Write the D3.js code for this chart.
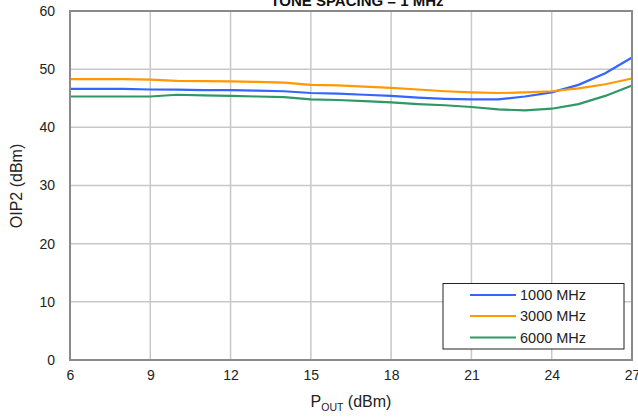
<!DOCTYPE html>
<html><head><meta charset="utf-8">
<script src="https://cdn.jsdelivr.net/npm/d3@7"></script>
<style>body{margin:0;background:#fff}svg{display:block;font-family:"Liberation Sans",Arial,sans-serif}</style>
</head><body><svg id="c" width="638" height="417"></svg>
<script>
const pout = [6,7,8,9,10,11,12,13,14,15,16,17,18,19,20,21,22,23,24,25,26,27];
const s1000 = [46.6,46.6,46.6,46.5,46.5,46.4,46.4,46.3,46.2,45.9,45.8,45.6,45.4,45.1,44.9,44.8,44.8,45.3,46.0,47.3,49.3,52.0];
const s3000 = [48.3,48.3,48.3,48.2,48.0,47.95,47.9,47.8,47.7,47.3,47.2,47.0,46.8,46.5,46.2,46.0,45.9,46.0,46.2,46.7,47.4,48.4];
const s6000 = [45.3,45.3,45.3,45.3,45.6,45.5,45.4,45.3,45.2,44.8,44.7,44.5,44.3,44.0,43.8,43.5,43.1,42.9,43.2,44.0,45.4,47.2];
const seriesNames = ["1000 MHz","3000 MHz","6000 MHz"];
const seriesColors = ["#3366ff","#ff9900","#2e9966"];
const xTicks = [6,9,12,15,18,21,24,27];
const yTicks = [0,10,20,30,40,50,60];

const svg = d3.select("#c");
const L=70,R=632,T=11,B=360;
const x = d3.scaleLinear().domain([6,27]).range([L,R]);
const y = d3.scaleLinear().domain([0,60]).range([B,T]);

// grid
svg.append("g").selectAll("line").data(xTicks.slice(1,-1)).join("line")
 .attr("x1",d=>x(d)).attr("x2",d=>x(d)).attr("y1",T).attr("y2",B)
 .attr("stroke","#c8c8c8").attr("stroke-width",1.5);
svg.append("g").selectAll("line").data(yTicks.slice(1,-1)).join("line")
 .attr("y1",d=>y(d)).attr("y2",d=>y(d)).attr("x1",L).attr("x2",R)
 .attr("stroke","#c8c8c8").attr("stroke-width",1.5);

// axes labels via d3 axes
const gx = svg.append("g").attr("transform",`translate(0,${B})`)
 .call(d3.axisBottom(x).tickValues(xTicks).tickSize(0).tickPadding(10));
gx.select(".domain").remove();
gx.selectAll("text").attr("font-size",14).attr("fill","#222").attr("font-family","Liberation Sans, Arial, sans-serif");
const gy = svg.append("g").attr("transform",`translate(${L},0)`)
 .call(d3.axisLeft(y).tickValues(yTicks).tickSize(0).tickPadding(15));
gy.select(".domain").remove();
gy.selectAll("text").attr("font-size",14).attr("fill","#222").attr("font-family","Liberation Sans, Arial, sans-serif");

// lines
const data = [s1000,s3000,s6000];
const line = d3.line().x((d,i)=>x(pout[i])).y(d=>y(d));
svg.append("g").selectAll("path").data(data).join("path")
 .attr("d",d=>line(d)).attr("fill","none")
 .attr("stroke",(d,i)=>seriesColors[i]).attr("stroke-width",2.2);

// frame
svg.append("rect").attr("x",L).attr("y",T).attr("width",R-L).attr("height",B-T)
 .attr("fill","none").attr("stroke","#8a8a8a").attr("stroke-width",2);

// title
svg.append("text").attr("x",357).attr("y",6).attr("text-anchor","middle")
 .attr("font-size",15).attr("font-weight","bold").attr("fill","#111").text("TONE SPACING = 1 MHz");

// axis titles
const xt = svg.append("text").attr("x",351).attr("y",407).attr("text-anchor","middle").attr("font-size",16).attr("fill","#222");
xt.append("tspan").text("P");
xt.append("tspan").attr("font-size",10.5).attr("dy",4).text("OUT");
xt.append("tspan").attr("dy",-4).text(" (dBm)");
svg.append("text").attr("transform","translate(22,186) rotate(-90)").attr("text-anchor","middle")
 .attr("font-size",16).attr("fill","#222").text("OIP2 (dBm)");

// legend
const lg = svg.append("g");
lg.append("rect").attr("x",443).attr("y",283.5).attr("width",181).attr("height",65.5)
 .attr("fill","#fff").attr("stroke","#222").attr("stroke-width",1);
const rows=[295,316,337.5];
seriesNames.forEach((n,i)=>{
 lg.append("line").attr("x1",470).attr("x2",516).attr("y1",rows[i]).attr("y2",rows[i])
  .attr("stroke",seriesColors[i]).attr("stroke-width",2.2);
 lg.append("text").attr("x",520).attr("y",rows[i]+5).attr("font-size",14.5).attr("fill","#222").text(n);
});
</script></body></html>
